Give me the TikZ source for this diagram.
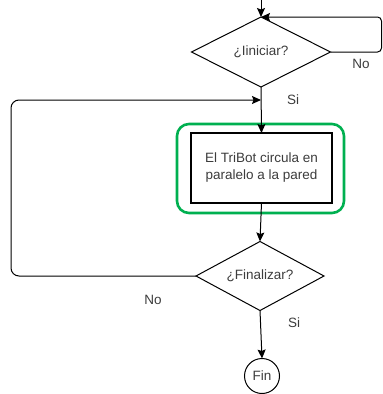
\documentclass[tikz,border=0pt]{standalone}
\usepackage{fontspec}
\setmainfont{Liberation Sans}
\usetikzlibrary{arrows.meta,shapes.geometric}

\definecolor{verde}{RGB}{0,176,80}
\definecolor{texto}{RGB}{60,60,60}

\begin{document}
\begin{tikzpicture}[
  x=1pt, y=-1pt, >={Stealth[length=9pt,width=8pt,inset=1.5pt]},
  font=\fontsize{13.5}{17}\selectfont, text=texto,
  dec/.style={draw, diamond, aspect=2, inner sep=0pt, outer sep=0pt, line width=1pt},
  caja/.style={draw, line width=1.2pt, minimum width=141pt, minimum height=70pt,
               align=center, inner sep=0pt, outer sep=0pt},
  arr/.style={->, line width=1pt},
  lbl/.style={inner sep=0pt},
]
  \useasboundingbox (0,0) rectangle (383,394);

  \coordinate (entrada) at (261,0);
  \node[dec, minimum width=139pt, minimum height=70pt] (ini) at (261,52) {¿Iiniciar?};
  \node[caja] (tarea) at (261.5,168) {El TriBot circula en\\paralelo a la pared};
  \node[draw=verde, line width=2.6pt, rounded corners=12pt,
        minimum width=167pt, minimum height=89pt] (marco) at (260.5,168.5) {};
  \node[draw, circle, line width=1pt, minimum size=35pt, inner sep=0pt, outer sep=0pt] (salida) at (262,376) {Fin};
  \node[dec, minimum width=128pt, minimum height=69pt] (fin) at (260,276) {¿Finalizar?};
  \coordinate (union) at (261,100);

  \draw[arr] (entrada) -- (ini.north);
  \draw[arr, rounded corners=4pt] (ini.east) -- ++(51,0) |- (ini.north);
  \draw[arr] (ini.south) -- (tarea.north);
  \draw[arr] (tarea.south) -- (fin.north);
  \draw[arr, rounded corners=8pt] (fin.west) -- ++(-185,0) |- (union);
  \draw[arr] (fin.south) -- (salida.north);

  \node[lbl] (no1) at (361,64) {No};
  \node[lbl] (si1) at (293,100) {Si};
  \node[lbl] (no2) at (153,300) {No};
  \node[lbl] (si2) at (294,323) {Si};
\end{tikzpicture}
\end{document}
